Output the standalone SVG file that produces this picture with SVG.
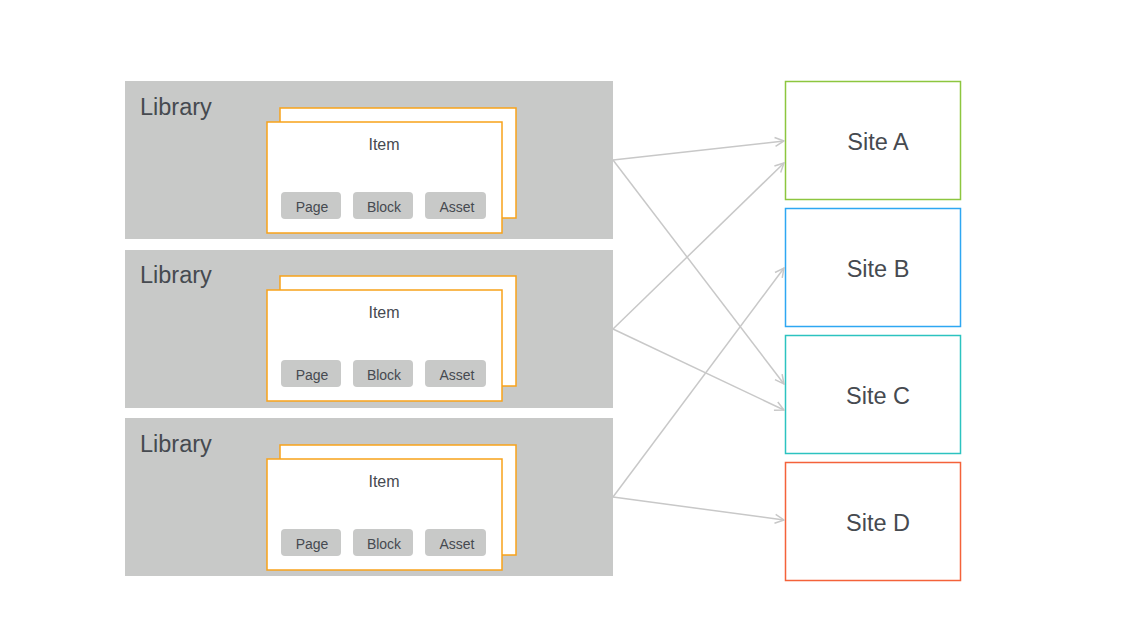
<svg xmlns="http://www.w3.org/2000/svg" width="1140" height="641" viewBox="0 0 1140 641">
<style>
.lib{fill:#c8c9c8}
.libt{font-family:"Liberation Sans",Arial,sans-serif;font-size:23.5px;fill:#464a50}
.card{fill:#fff;stroke:#f8a21a;stroke-width:1.5}
.itemt{font-family:"Liberation Sans",Arial,sans-serif;font-size:16px;fill:#464a50;text-anchor:middle}
.btn{fill:#c8c9c8}
.btnt{font-family:"Liberation Sans",Arial,sans-serif;font-size:14px;fill:#464a50;text-anchor:middle}
.site{fill:#fff;stroke-width:1.5}
.sitet{font-family:"Liberation Sans",Arial,sans-serif;font-size:23.5px;fill:#464a50;text-anchor:middle}
.conn{fill:none;stroke:#c8c8c8;stroke-width:1.5;marker-end:url(#arr)}
</style>
<defs>
<marker id="arr" viewBox="0 0 12 12" refX="11" refY="6" markerWidth="12" markerHeight="12" markerUnits="userSpaceOnUse" orient="auto">
<path d="M2,1.5 L11,6 L2,10.5" fill="none" stroke="#c8c8c8" stroke-width="1.5"/>
</marker>
<g id="itemstack">
<rect class="card" x="280" y="108" width="236" height="110"/>
<rect class="card" x="267" y="122" width="235" height="111"/>
<text class="itemt" x="384" y="150">Item</text>
<rect class="btn" x="281" y="192" width="60" height="27" rx="4"/>
<text class="btnt" x="312" y="212">Page</text>
<rect class="btn" x="353" y="192" width="60" height="27" rx="4"/>
<text class="btnt" x="384" y="212">Block</text>
<rect class="btn" x="425" y="192" width="61" height="27" rx="4"/>
<text class="btnt" x="457" y="212">Asset</text>
</g>
</defs>
<rect width="1140" height="641" fill="#fff"/>
<g id="library1">
<rect class="lib" x="125" y="81" width="488" height="158"/>
<text class="libt" x="140" y="115">Library</text>
<use href="#itemstack"/>
</g>
<g id="library2">
<rect class="lib" x="125" y="250" width="488" height="158"/>
<text class="libt" x="140" y="283">Library</text>
<use href="#itemstack" y="168"/>
</g>
<g id="library3">
<rect class="lib" x="125" y="418" width="488" height="158"/>
<text class="libt" x="140" y="452">Library</text>
<use href="#itemstack" y="337"/>
</g>
<g id="siteA">
<rect class="site" x="785.5" y="81.5" width="175" height="118" stroke="#8dc63f"/>
<text class="sitet" x="878" y="150">Site A</text>
</g>
<g id="siteB">
<rect class="site" x="785.5" y="208.5" width="175" height="118" stroke="#2ea7f2"/>
<text class="sitet" x="878" y="277">Site B</text>
</g>
<g id="siteC">
<rect class="site" x="785.5" y="335.5" width="175" height="118" stroke="#2cc3c0"/>
<text class="sitet" x="878" y="404">Site C</text>
</g>
<g id="siteD">
<rect class="site" x="785.5" y="462.5" width="175" height="118" stroke="#f4623a"/>
<text class="sitet" x="878" y="531">Site D</text>
</g>
<g id="connectors">
<path class="conn" d="M613,160 L784,141"/>
<path class="conn" d="M613,160 L784,384"/>
<path class="conn" d="M613,329 L784,163"/>
<path class="conn" d="M613,329 L784,410"/>
<path class="conn" d="M613,497 L784,268"/>
<path class="conn" d="M613,497 L784,520"/>
</g>
</svg>
